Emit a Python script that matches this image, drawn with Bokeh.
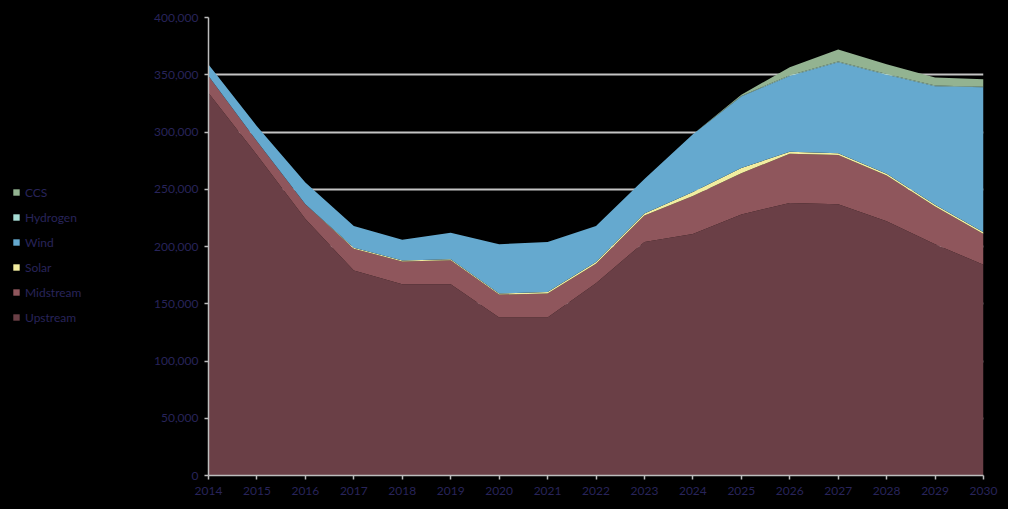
from bokeh.plotting import figure
from bokeh.models import ColumnDataSource, Legend, LegendItem, NumeralTickFormatter, FixedTicker, Range1d
from bokeh.layouts import row
from bokeh.embed import file_html
from bokeh.resources import INLINE

years = list(range(2014, 2031))
upstream = [334000, 280000, 224000, 179000, 167000, 167000, 138000, 138000, 168000,
            204000, 211000, 228000, 238000, 237000, 222000, 202000, 184000]
midstream = [15000, 12000, 13000, 19000, 20000, 21000, 20000, 21000, 17000,
             23000, 33000, 36000, 43000, 43000, 40000, 33000, 27000]
solar = [0, 0, 0, 1000, 800, 800, 1000, 1200, 1500,
         1800, 3500, 4500, 1800, 1500, 1500, 1500, 1500]
wind = [10000, 13000, 19000, 19000, 18200, 23200, 43000, 43800, 31500,
        30200, 50500, 62500, 66200, 79500, 86500, 103500, 126500]
hydrogen = [0, 0, 0, 0, 0, 0, 0, 0, 0, 0, 0, 500, 600, 600, 600, 600, 600]
ccs = [0, 0, 0, 0, 0, 0, 0, 0, 0, 0, 0, 1000, 7000, 10500, 8500, 7000, 6500]

names = ["Upstream", "Midstream", "Solar", "Wind", "Hydrogen", "CCS"]
colors = ["#6a3f46", "#8f565c", "#f2eda0", "#65a9cf", "#a6dcd4", "#93b391"]

source = ColumnDataSource(dict(year=years, Upstream=upstream, Midstream=midstream,
                               Solar=solar, Wind=wind, Hydrogen=hydrogen, CCS=ccs))

LW = 150  # width of the legend column
H = 509
BG = {"background-color": "black"}

p = figure(width=1008 - LW, height=H, output_backend="svg", toolbar_location=None,
           x_range=Range1d(2014, 2030), y_range=Range1d(0, 400000),
           min_border_left=208 - LW, min_border_right=25, min_border_top=17, min_border_bottom=34)

p.background_fill_color = None
p.border_fill_color = "black"
p.outline_line_color = None
p.styles = BG

renderers = p.varea_stack(stackers=names, x="year", color=colors, source=source)

label_color = "#28245a"
font = "Lato"

p.xgrid.grid_line_color = None
p.ygrid.grid_line_color = "#c4c4c4"
p.ygrid.grid_line_width = 2
p.yaxis.ticker = FixedTicker(ticks=list(range(0, 400001, 50000)))
p.xaxis.ticker = FixedTicker(ticks=years)
p.yaxis.formatter = NumeralTickFormatter(format="0,0")

for ax in (p.xaxis, p.yaxis):
    ax.axis_line_color = "#bdbdbd"
    ax.axis_line_width = 1.5
    ax.major_tick_line_color = "#bdbdbd"
    ax.major_tick_line_width = 1.5
    ax.major_tick_in = 0
    ax.major_tick_out = 4
    ax.minor_tick_line_color = None
    ax.major_label_text_color = label_color
    ax.major_label_text_font = font
    ax.major_label_text_font_size = "12px"
p.yaxis.major_label_standoff = 6
p.xaxis.major_label_standoff = 7

# legend column: same stacked areas, drawn with an x range that keeps them out of view
lg = figure(width=LW, height=H, output_backend="svg", toolbar_location=None,
            x_range=Range1d(0, 1), y_range=Range1d(0, 1),
            x_axis_type=None, y_axis_type=None,
            min_border_left=0, min_border_right=0, min_border_top=0, min_border_bottom=0)
lg.background_fill_color = None
lg.border_fill_color = "black"
lg.outline_line_color = None
lg.grid.visible = False
lg.styles = BG
dummies = lg.varea_stack(stackers=names, x="year", color=colors, source=source)

items = [LegendItem(label=n, renderers=[r]) for n, r in zip(names, dummies)][::-1]
legend = Legend(items=items, location=(12, 148))
legend.background_fill_alpha = 0
legend.border_line_color = None
legend.padding = 0
legend.margin = 0
legend.spacing = 5
legend.glyph_width = 8
legend.glyph_height = 8
legend.label_height = 20
legend.label_text_color = label_color
legend.label_text_font = font
legend.label_text_font_size = "12px"
legend.label_standoff = 5
lg.add_layout(legend)

layout = row(lg, p)
layout.styles = BG
open("out.html", "w").write(file_html(layout, INLINE))
